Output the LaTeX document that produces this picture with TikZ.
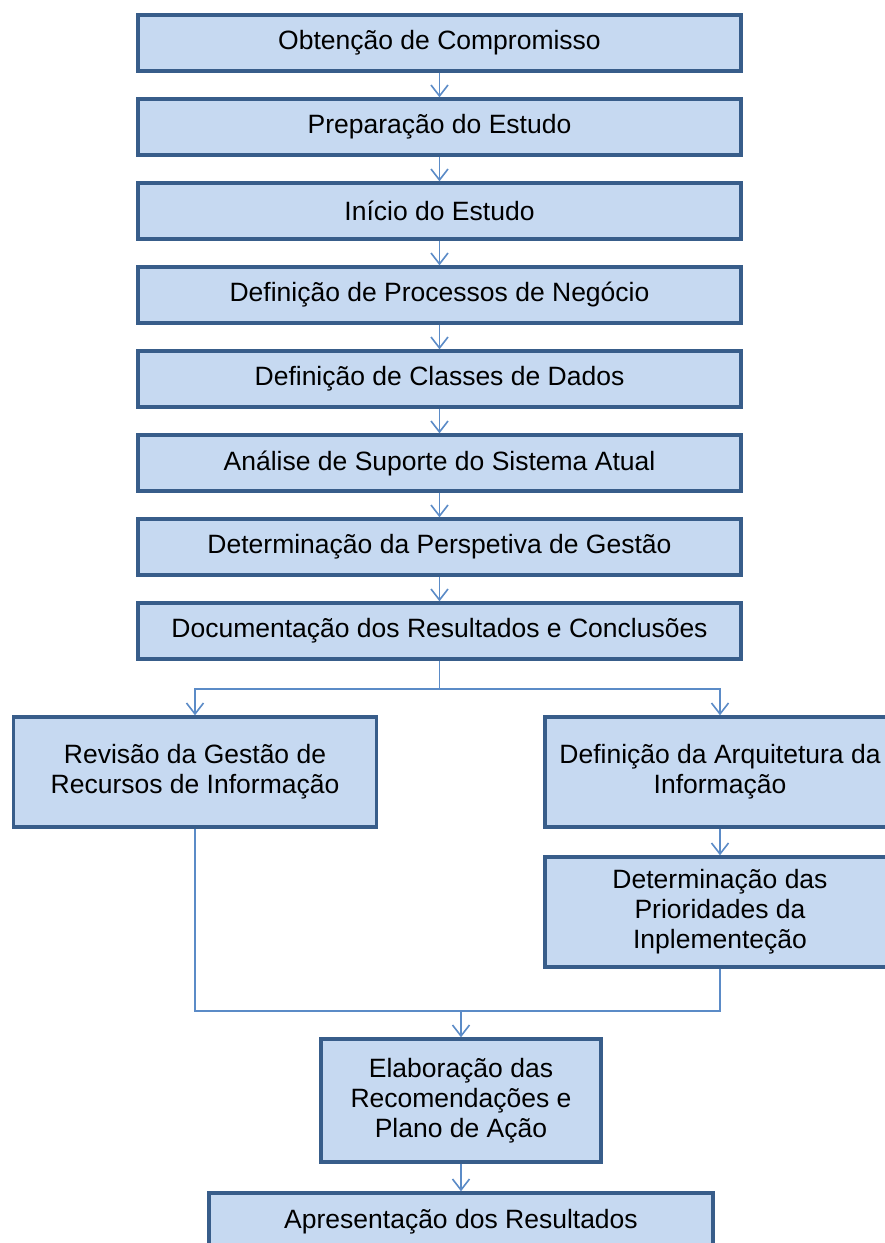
\documentclass[tikz,border=0pt]{standalone}
\usepackage{fontspec}
\setmainfont{Liberation Sans}
\usetikzlibrary{arrows.meta}
\definecolor{boxfill}{HTML}{C6D9F1}
\definecolor{boxline}{HTML}{385D8A}
\definecolor{connline}{HTML}{5B8BC7}
\tikzset{
  flowbox/.style={draw=boxline, fill=boxfill, line width=3.4pt, inner sep=0pt,
    align=center, text=black, font=\fontsize{26.5}{30}\selectfont},
  topbox/.style={flowbox, minimum width=603pt, minimum height=56pt},
  conn/.style={draw=connline, line width=1.6pt},
  arr/.style={conn, -{Straight Barb[length=11pt,width=17pt,line width=1.6pt]}},
}
\begin{document}
\begin{tikzpicture}[x=1pt,y=-1pt]
\useasboundingbox[fill=white] (0,0) rectangle (885,1243);
\node[topbox] (t1) at (439.5,43) {Obtenção de Compromisso};
\node[topbox] (t2) at (439.5,127) {Preparação do Estudo};
\node[topbox] (t3) at (439.5,211) {Início do Estudo};
\node[topbox] (t4) at (439.5,295) {Definição de Processos de Negócio};
\node[topbox] (t5) at (439.5,379) {Definição de Classes de Dados};
\node[topbox] (t6) at (439.5,463) {Análise de Suporte do Sistema Atual};
\node[topbox] (t7) at (439.5,547) {Determinação da Perspetiva de Gestão};
\node[topbox] (t8) at (439.5,631) {Documentação dos Resultados e Conclusões};
\node[flowbox, minimum width=363pt, minimum height=110pt] (L) at (195,772)
  {Revisão da Gestão de\\Recursos de Informação};
\node[flowbox, minimum width=350pt, minimum height=110pt] (R1) at (720,772)
  {Definição da Arquitetura da\\Informação};
\node[flowbox, minimum width=350pt, minimum height=110pt] (R2) at (720,912)
  {Determinação das\\Prioridades da\\Inplementeção};
\node[flowbox, minimum width=280pt, minimum height=123pt] (E) at (461,1100.5)
  {Elaboração das\\Recomendações e\\Plano de Ação};
\node[flowbox, minimum width=504pt, minimum height=58pt] (A) at (461,1222)
  {Apresentação dos Resultados};
\draw[arr] (t1) -- (t2);
\draw[arr] (t2) -- (t3);
\draw[arr] (t3) -- (t4);
\draw[arr] (t4) -- (t5);
\draw[arr] (t5) -- (t6);
\draw[arr] (t6) -- (t7);
\draw[arr] (t7) -- (t8);
\coordinate (sp) at (439.5,689);
\draw[conn] (t8) -- (sp);
\draw[arr] (sp) -| (L);
\draw[arr] (sp) -| (R1);
\draw[arr] (R1) -- (R2);
\coordinate (mg) at (461,1011);
\draw[conn] (L.south) |- (mg);
\draw[conn] (R2.south) |- (mg);
\draw[arr] (mg) -- (E);
\draw[arr] (E) -- (A);
\end{tikzpicture}
\end{document}
